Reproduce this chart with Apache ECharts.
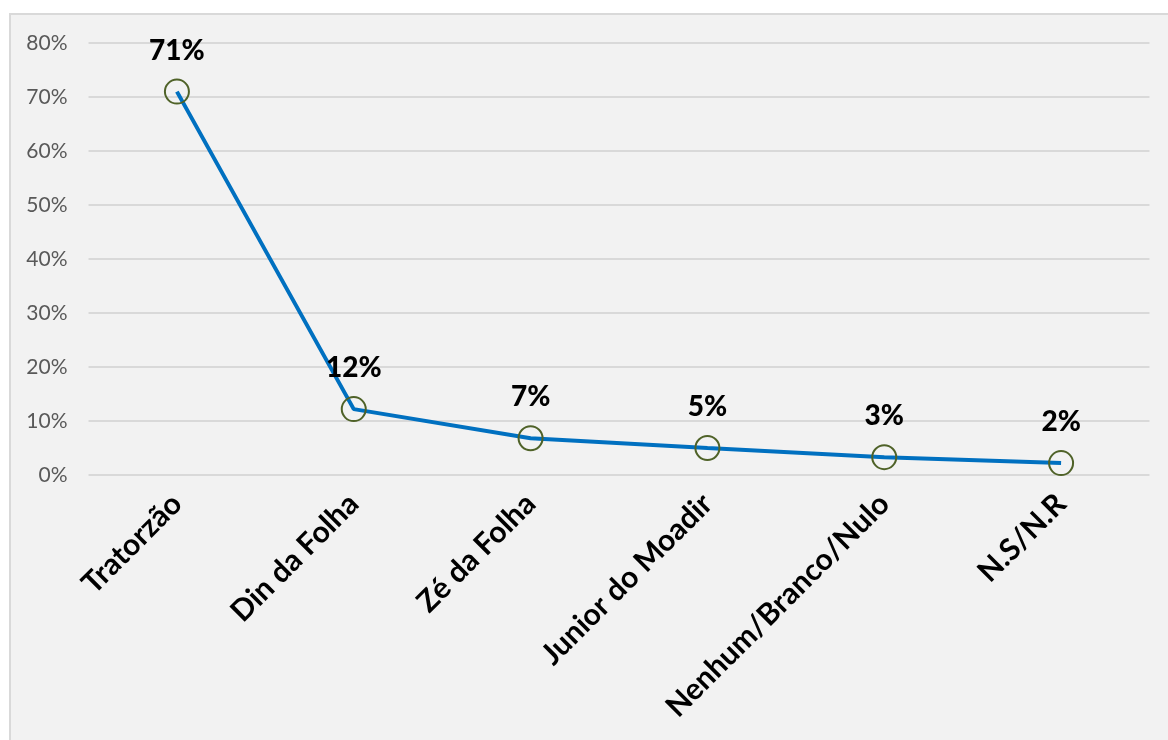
<!DOCTYPE html>
<html>
<head>
<meta charset="utf-8">
<script src="https://cdn.jsdelivr.net/npm/echarts@6/dist/echarts.min.js"></script>
<style>
  html, body { margin: 0; padding: 0; background: #fff; }
  #chart { width: 1168px; height: 740px; }
</style>
</head>
<body>
<div id="chart"></div>
<script>
// categorias e valores (%)
const categories = ['Tratorzão', 'Din da Folha', 'Zé da Folha', 'Junior do Moadir', 'Nenhum/Branco/Nulo', 'N.S/N.R']
const values = [71, 12.2, 6.8, 5, 3.3, 2.2]
const yTicks = [0, 10, 20, 30, 40, 50, 60, 70, 80]

const chart = echarts.init(document.getElementById('chart'))
chart.setOption({
  backgroundColor: '#fff',
  textStyle: { fontFamily: 'Lato' },
  graphic: [{
    type: 'rect',
    left: 9,
    top: 13,
    z: -10,
    silent: true,
    shape: { width: 1180, height: 740 },
    style: { fill: '#f2f2f2', stroke: '#d9d9d9', lineWidth: 2 }
  }],
  grid: {
    left: 88.5,
    right: 18.5,
    top: 43,
    bottom: 265
  },
  xAxis: {
    type: 'category',
    data: categories,
    boundaryGap: true,
    axisLine: { show: false },
    axisTick: { show: false },
    axisLabel: {
      rotate: 45,
      margin: 24,
      interval: 0,
      color: '#000',
      fontWeight: 'bold',
      fontSize: 30,
      fontFamily: 'Lato'
    }
  },
  yAxis: {
    type: 'value',
    min: yTicks[0],
    max: yTicks[yTicks.length - 1],
    interval: 10,
    axisLine: { show: false },
    axisTick: { show: false },
    axisLabel: {
      formatter: '{value}%',
      color: '#595959',
      fontSize: 21,
      margin: 21,
      fontFamily: 'Lato'
    },
    splitLine: { lineStyle: { color: '#d9d9d9', width: 2 } }
  },
  series: [{
    type: 'line',
    data: values,
    symbol: 'circle',
    symbolSize: 24,
    lineStyle: { color: '#0070c0', width: 4 },
    itemStyle: { color: 'rgba(0,0,0,0)', borderColor: '#4f6228', borderWidth: 2 },
    label: {
      show: true,
      position: 'top',
      distance: 14,
      color: '#000',
      fontWeight: 900,
      fontSize: 28,
      fontFamily: 'Lato',
      formatter: p => Math.round(p.value) + '%'
    }
  }]
})
</script>
</body>
</html>
